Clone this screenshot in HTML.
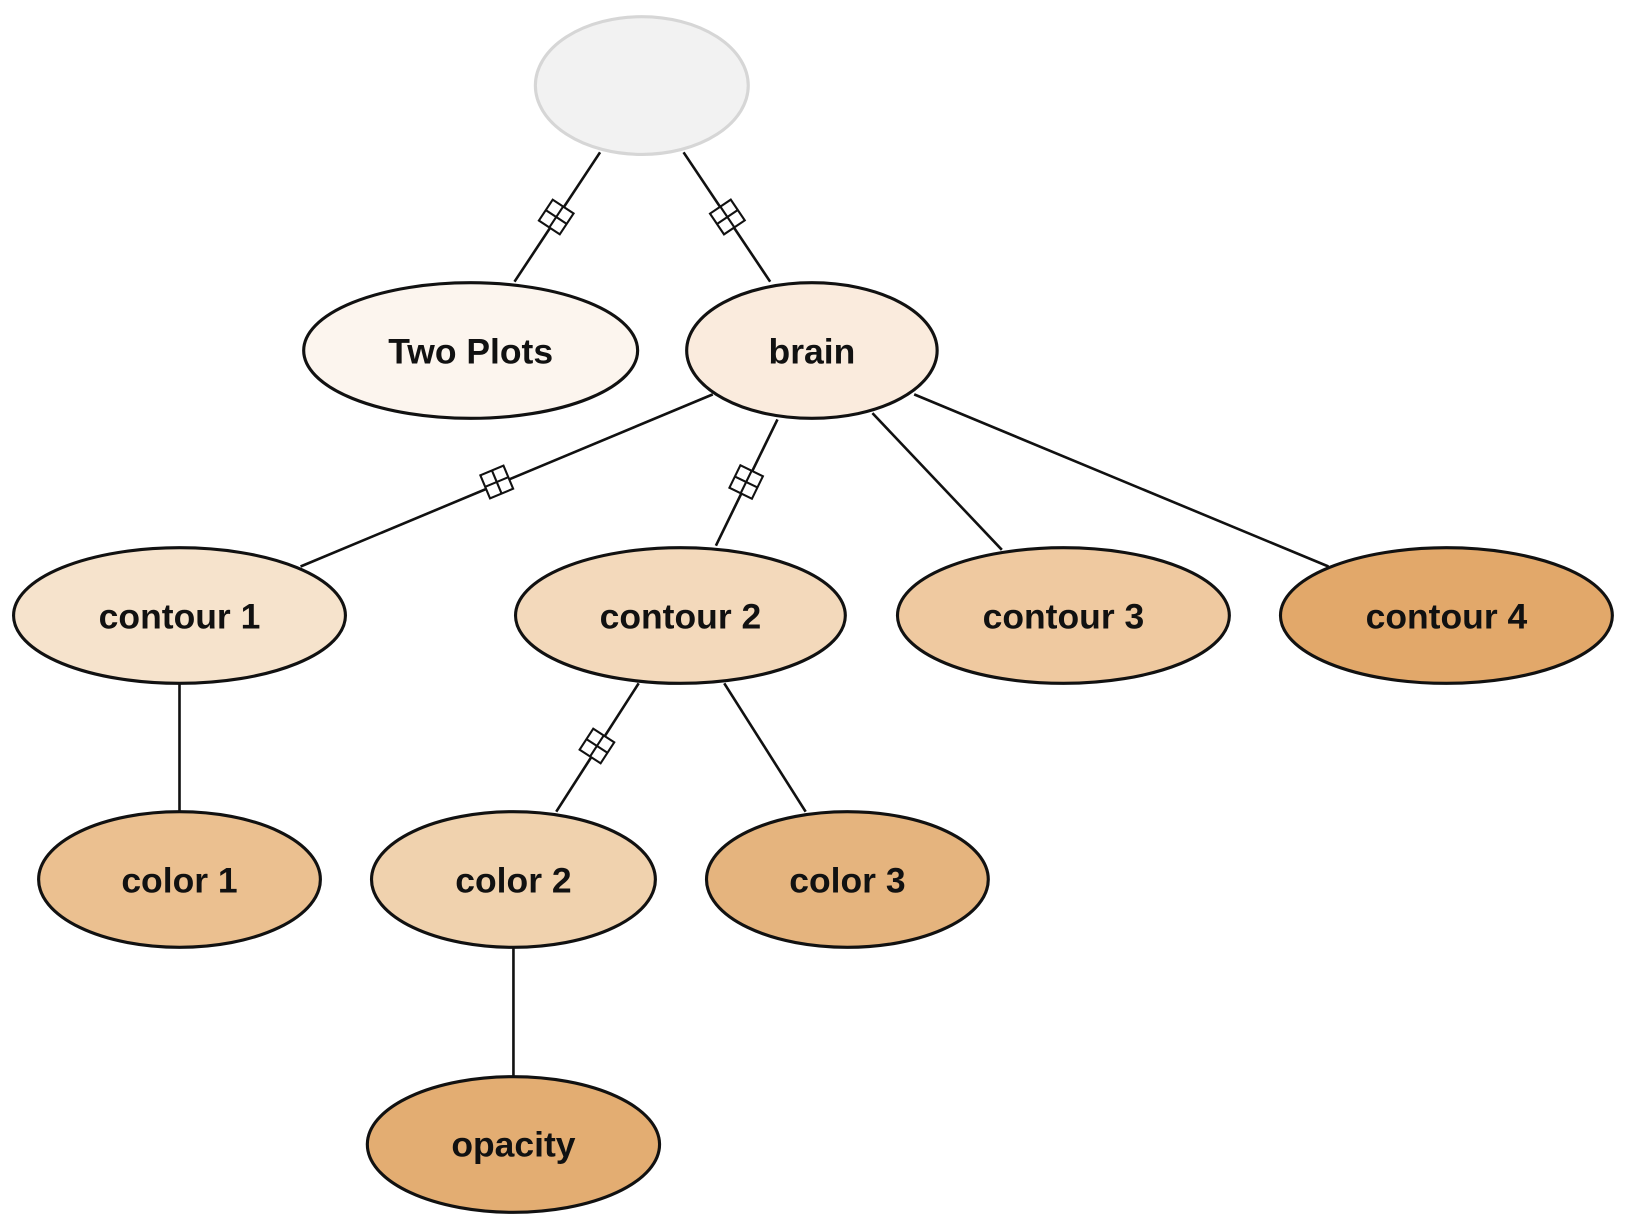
<!DOCTYPE html>
<html><head><meta charset="utf-8"><style>
html,body{margin:0;padding:0;background:#fff;}
svg{display:block}
text{font-family:"Liberation Sans",Arial,sans-serif;font-weight:bold;font-size:34px;fill:#111;text-anchor:middle;dominant-baseline:central}
</style></head><body>
<svg width="1628" height="1229" viewBox="0 0 1560 1178" preserveAspectRatio="none" xmlns="http://www.w3.org/2000/svg">
<defs>
<g id="bx"><rect x="-12" y="-12" width="24" height="24" fill="#fff" stroke="#111" stroke-width="2"/><line x1="-12" y1="0" x2="12" y2="0" stroke="#111" stroke-width="2"/><line x1="0" y1="-12" x2="0" y2="12" stroke="#111" stroke-width="2"/></g>
</defs>
<g stroke="#111" stroke-width="2.5" fill="none">
<line x1="575" y1="146" x2="493" y2="270"/>
<line x1="655" y1="146" x2="738" y2="270"/>
<line x1="683" y1="378" x2="288" y2="543"/>
<line x1="745" y1="402" x2="686" y2="523"/>
<line x1="836" y1="396" x2="960" y2="527"/>
<line x1="876" y1="378" x2="1273" y2="543"/>
<line x1="172" y1="655" x2="172" y2="778"/>
<line x1="612" y1="655" x2="533" y2="778"/>
<line x1="694" y1="655" x2="772" y2="778"/>
<line x1="492" y1="908" x2="492" y2="1032"/>
</g>
<use href="#bx" transform="translate(533,208) rotate(-56.5)"/>
<use href="#bx" transform="translate(697,208) rotate(56)"/>
<use href="#bx" transform="translate(476,462) rotate(-22.7)"/>
<use href="#bx" transform="translate(715,462) rotate(-64)"/>
<use href="#bx" transform="translate(572,715) rotate(-57)"/>
<g stroke-width="3" stroke="#111">
<ellipse cx="615" cy="82" rx="102" ry="66" fill="#f2f2f2" stroke="#d6d6d6"/>
<ellipse cx="451" cy="336" rx="160" ry="65" fill="#fcf5ee"/>
<ellipse cx="778" cy="336" rx="120" ry="65" fill="#faebdd"/>
<ellipse cx="172" cy="590" rx="159" ry="65" fill="#f6e3cc"/>
<ellipse cx="652" cy="590" rx="158" ry="65" fill="#f3d9bb"/>
<ellipse cx="1019" cy="590" rx="159" ry="65" fill="#efc9a0"/>
<ellipse cx="1386" cy="590" rx="159" ry="65" fill="#e2a86a"/>
<ellipse cx="172" cy="843" rx="135" ry="65" fill="#ebc090"/>
<ellipse cx="492" cy="843" rx="136" ry="65" fill="#f0d2ae"/>
<ellipse cx="812" cy="843" rx="135" ry="65" fill="#e5b47e"/>
<ellipse cx="492" cy="1097" rx="140" ry="65" fill="#e3ad72"/>
</g>
<text x="451" y="337">Two Plots</text>
<text x="778" y="337">brain</text>
<text x="172" y="591">contour 1</text>
<text x="652" y="591">contour 2</text>
<text x="1019" y="591">contour 3</text>
<text x="1386" y="591">contour 4</text>
<text x="172" y="844">color 1</text>
<text x="492" y="844">color 2</text>
<text x="812" y="844">color 3</text>
<text x="492" y="1097">opacity</text>
</svg>
</body></html>
